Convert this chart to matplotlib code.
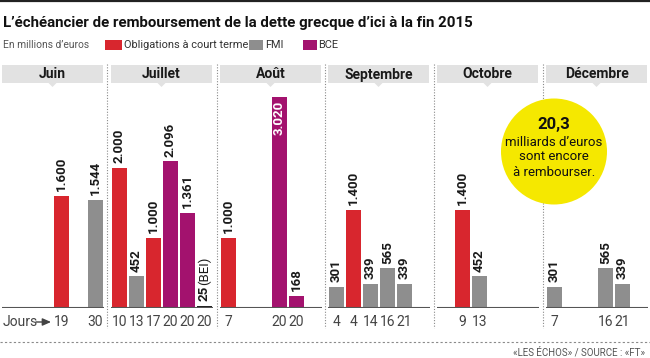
import matplotlib
matplotlib.use("Agg")
import matplotlib.pyplot as plt
from matplotlib import font_manager as fm
from matplotlib.patches import Rectangle, Circle, Polygon

# ---------------- data ----------------
months = ["Juin", "Juillet", "Août", "Septembre", "Octobre", "Décembre"]
days = [[19, 30], [10, 13, 17, 20, 20, 20], [7, 20, 20],
        [4, 4, 14, 16, 21], [9, 13], [7, 16, 21]]
values = [[1600, 1544], [2000, 452, 1000, 2096, 1361, 25], [1000, 3020, 168],
          [301, 1400, 339, 565, 339], [1400, 452], [301, 565, 339]]
series = [["Obligations", "FMI"],
          ["Obligations", "FMI", "Obligations", "BCE", "BCE", "BEI"],
          ["Obligations", "BCE", "BCE"],
          ["FMI", "Obligations", "FMI", "FMI", "FMI"],
          ["Obligations", "FMI"],
          ["FMI", "FMI", "FMI"]]
legend_labels = ["Obligations à court terme", "FMI", "BCE"]
title = "L’échéancier de remboursement de la dette grecque d’ici à la fin 2015"
subtitle = "En millions d’euros"
bubble_value = "20,3"
bubble_text = ["milliards d’euros", "sont encore", "à rembourser."]
source = "«LES ÉCHOS» / SOURCE : «FT»"

# ---------------- layout / style ----------------
slots = [[3, 5], [0, 1, 2, 3, 4, 5], [0, 3, 4], [0, 1, 2, 3, 4], [1, 2], [0, 3, 4]]
panel_x = [2, 111, 220, 328, 437, 546]
W, H = 650, 358
colors = {"Obligations": "#d8262e", "FMI": "#8e8e8e", "BCE": "#a3126e", "BEI": "#222222"}

names = {f.name for f in fm.fontManager.ttflist}
NARROW = "Liberation Sans Narrow" if "Liberation Sans Narrow" in names else "Roboto"
MAIN = "Roboto"

fig = plt.figure(figsize=(W / 100, H / 100), dpi=100)
fig.patch.set_facecolor("white")

ov = fig.add_axes([0, 0, 1, 1])
ov.set_xlim(0, W)
ov.set_ylim(H, 0)
ov.axis("off")
ov.set_zorder(0)

# top rule
ov.plot([0, W], [1, 1], color="#222222", lw=1.6, solid_capstyle="butt")
# title & legend
ov.text(3, 23, title, fontsize=10.8, fontweight="bold", family=MAIN, color="#111111",
        va="center", ha="left")
ov.text(3, 45, subtitle, fontsize=7.4, family=NARROW, color="#555555", va="center")
leg = [(105, 17, 124, "Obligations"), (249, 14, 265, "FMI"), (303, 14, 318, "BCE")]
for (x0, w, tx, key), lab in zip(leg, legend_labels):
    ov.add_patch(Rectangle((x0, 40), w, 10, color=colors[key], lw=0))
    ov.text(tx, 45, lab, fontsize=7.9, family=NARROW, color="#333333", va="center")

# headers
for px, m in zip(panel_x, months):
    ov.add_patch(Rectangle((px, 65), 101, 18, color="#e2e2e2", lw=0))
    c = px + 50.5
    ov.add_patch(Polygon([(c - 4, 83), (c + 4, 83), (c, 87)], closed=True,
                         color="#e2e2e2", lw=0))
    ov.text(c, 74.5, m, fontsize=10, fontweight="bold", family=MAIN, color="#1a1a1a",
            ha="center", va="center")

# separators
for sx in [107, 217, 325, 434, 543]:
    ov.plot([sx, sx], [64, 328], color="#8a8a8a", lw=0.8, ls=(0, (1, 1.5)))
ov.plot([0, W], [342, 342], color="#8a8a8a", lw=0.8, ls=(0, (2, 2)))
ov.text(645, 352, source, fontsize=7, family=NARROW, color="#555555", ha="right",
        va="center")

# bubble
ov.add_patch(Circle((554, 151.5), 53, color="#f5e800", lw=0, zorder=5))
ov.text(554, 125, bubble_value, fontsize=12, fontweight="bold", family=MAIN,
        color="#111111", ha="center", va="center", zorder=6)
for k, line in enumerate(bubble_text):
    ov.text(554, 142 + 15 * k, line, fontsize=9.5, family=MAIN, color="#111111",
            ha="center", va="center", zorder=6)

ov.text(3, 322, "Jours", fontsize=10, family=NARROW, color="#444444", va="center")
ov.annotate("", xy=(51, 322), xytext=(36, 322),
            arrowprops=dict(arrowstyle="-|>,head_length=0.5,head_width=0.22",
                            color="#444444", lw=1.0, shrinkA=0, shrinkB=0))

# ---------------- panels ----------------
units_per_px = 14.3
base_px = 308
top_px = 87
ymax = (base_px - top_px) * units_per_px
for i in range(len(months)):
    ax = fig.add_axes([panel_x[i] / W, (H - base_px) / H, 102 / W,
                       (base_px - top_px) / H])
    ax.set_zorder(1)
    ax.patch.set_alpha(0)
    ax.set_xlim(-0.5, 5.5)
    ax.set_ylim(0, ymax)
    ax.axis("off")
    ax.axhline(0, color="#555555", lw=1.5, zorder=3)
    for s, d, v, ser in zip(slots[i], days[i], values[i], series[i]):
        ax.bar(s, v, width=0.9, color=colors[ser], lw=0, zorder=2)
        lab = f"{v:,}".replace(",", ".")
        if v > 0.85 * ymax:
            ax.annotate(lab, (s, v), xytext=(0, -2.5), textcoords="offset points",
                        rotation=90, ha="center", va="top", fontsize=9.5,
                        fontweight="bold", family=NARROW, color="white", zorder=4)
        else:
            ax.annotate(lab, (s, v), xytext=(0, 3.5), textcoords="offset points",
                        rotation=90, ha="center", va="bottom", fontsize=9.5,
                        fontweight="bold", family=NARROW, color="#1a1a1a")
        if ser == "BEI":
            ax.annotate("(BEI)", (s, v), xytext=(0, 15.5), textcoords="offset points",
                        rotation=90, ha="center", va="bottom", fontsize=9.5,
                        family=NARROW, color="#1a1a1a")
        ax.annotate(str(d), (s, 0), xytext=(0, -10), textcoords="offset points",
                    ha="center", va="center", fontsize=10, family=NARROW,
                    color="#444444", annotation_clip=False)

fig.savefig("out.png", dpi=100)
